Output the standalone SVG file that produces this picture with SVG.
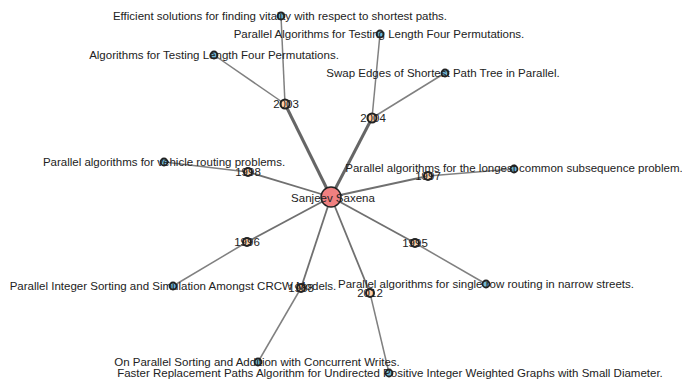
<svg xmlns="http://www.w3.org/2000/svg" width="682" height="383" viewBox="0 0 682 383">
<style>
text{font-family:"Liberation Sans",Arial,sans-serif;font-size:11.5px;fill:#222;text-anchor:middle}
.e{stroke:#808080;stroke-width:1.5;fill:none}
.ey{stroke:#707070;stroke-width:1.8;fill:none}
.eb{stroke:#666;stroke-width:3;fill:none}
.c{fill:#f08080;stroke:#222;stroke-width:1.5}
.y{fill:#ffd0a8;stroke:#222;stroke-width:2}
.p{fill:#6fb7d8;stroke:#222;stroke-width:1.8}
</style>
<rect width="682" height="383" fill="#fff"/>
<g id="edges">
<line class="eb" x1="331" y1="197" x2="285" y2="104"/>
<line class="eb" x1="331" y1="197" x2="372" y2="118"/>
<line class="ey" x1="331" y1="197" x2="248" y2="172"/>
<line class="ey" x1="331" y1="197" x2="428" y2="176"/>
<line class="ey" x1="331" y1="197" x2="247" y2="242"/>
<line class="ey" x1="331" y1="197" x2="415" y2="243"/>
<line class="ey" x1="331" y1="197" x2="301" y2="288"/>
<line class="ey" x1="331" y1="197" x2="370" y2="293"/>
<line class="e" x1="285" y1="104" x2="281" y2="16"/>
<line class="e" x1="285" y1="104" x2="214" y2="55"/>
<line class="e" x1="372" y1="118" x2="380" y2="34"/>
<line class="e" x1="372" y1="118" x2="445" y2="73"/>
<line class="e" x1="248" y1="172" x2="164" y2="162"/>
<line class="e" x1="428" y1="176" x2="514" y2="169"/>
<line class="e" x1="247" y1="242" x2="173" y2="286"/>
<line class="e" x1="415" y1="243" x2="486" y2="284"/>
<line class="e" x1="301" y1="288" x2="258" y2="362"/>
<line class="e" x1="370" y1="293" x2="389" y2="373"/>
</g>
<g id="n-saxena"><circle class="c" cx="331" cy="197" r="10"/><text x="333" y="202">Sanjeev Saxena</text></g>
<g id="n-2003"><circle class="y" cx="285" cy="104" r="4.5"/><text x="286" y="108">2003</text></g>
<g id="n-2004"><circle class="y" cx="372" cy="118" r="4.5"/><text x="373" y="122">2004</text></g>
<g id="n-1998"><circle class="y" cx="248" cy="172" r="4"/><text x="248" y="176">1998</text></g>
<g id="n-1997"><circle class="y" cx="428" cy="176" r="4"/><text x="428" y="180">1997</text></g>
<g id="n-1996"><circle class="y" cx="247" cy="242" r="4"/><text x="247" y="246">1996</text></g>
<g id="n-1995"><circle class="y" cx="415" cy="243" r="4"/><text x="415" y="247">1995</text></g>
<g id="n-1988"><circle class="y" cx="301" cy="288" r="4"/><text x="301" y="292">1988</text></g>
<g id="n-2012"><circle class="y" cx="370" cy="293" r="4"/><text x="370" y="297">2012</text></g>
<g id="p-vitality"><circle class="p" cx="281" cy="16" r="3.5"/><text x="280" y="20">Efficient solutions for finding vitality with respect to shortest paths.</text></g>
<g id="p-pal-testing"><circle class="p" cx="380" cy="34" r="3.5"/><text x="379" y="38">Parallel Algorithms for Testing Length Four Permutations.</text></g>
<g id="p-testing"><circle class="p" cx="214" cy="55" r="3.5"/><text x="214" y="59">Algorithms for Testing Length Four Permutations.</text></g>
<g id="p-swap"><circle class="p" cx="445" cy="73" r="3.5"/><text x="443" y="77">Swap Edges of Shortest Path Tree in Parallel.</text></g>
<g id="p-vehicle"><circle class="p" cx="164" cy="162" r="3.5"/><text x="164" y="166">Parallel algorithms for vehicle routing problems.</text></g>
<g id="p-lcs"><circle class="p" cx="514" cy="169" r="3.5"/><text x="514" y="172">Parallel algorithms for the longest common subsequence problem.</text></g>
<g id="p-crcw"><circle class="p" cx="173" cy="286" r="3.5"/><text x="173" y="290">Parallel Integer Sorting and Simulation Amongst CRCW Models.</text></g>
<g id="p-row"><circle class="p" cx="486" cy="284" r="3.5"/><text x="486" y="288">Parallel algorithms for single row routing in narrow streets.</text></g>
<g id="p-sorting"><circle class="p" cx="258" cy="362" r="3.5"/><text x="257" y="366">On Parallel Sorting and Addition with Concurrent Writes.</text></g>
<g id="p-replacement"><circle class="p" cx="389" cy="373" r="3.5"/><text x="390" y="377">Faster Replacement Paths Algorithm for Undirected Positive Integer Weighted Graphs with Small Diameter.</text></g>
</svg>
